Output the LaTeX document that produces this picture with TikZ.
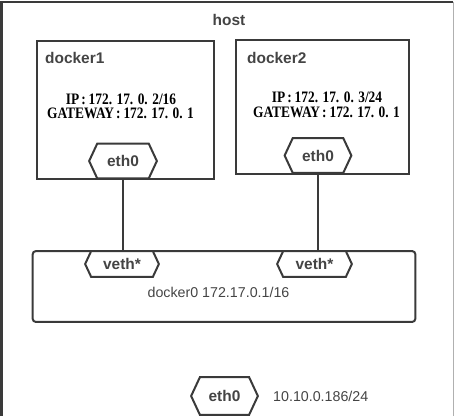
\documentclass[tikz,border=0pt]{standalone}
\usepackage{fontspec}
\setmainfont{Liberation Sans}
\newfontfamily\ipfont[FakeStretch=0.84]{Liberation Serif}
\usetikzlibrary{shapes.symbols}
\definecolor{ln}{HTML}{3A3A3A}
\definecolor{tx}{HTML}{444444}
\newcommand{\ipc}{\hspace{2pt}:\hspace{3pt}}
\begin{document}
\begin{tikzpicture}[x=1bp,y=-1bp,
  box/.style={draw=ln, line width=2bp, inner sep=0},
  hexa/.style={draw=ln, line width=2bp, fill=white, shape=signal,
    signal to=west and east, signal pointer angle=130, inner sep=0,
    font=\fontsize{15.5}{18}\selectfont\bfseries, text=tx},
  lbl/.style={font=\fontsize{15.5}{18}\selectfont\bfseries, text=tx, inner sep=0},
  ip/.style={font=\ipfont\bfseries\fontsize{16}{14}\selectfont, inner sep=0, text=black,
    anchor=base, text height=10.5bp, text depth=1bp},
  plain/.style={font=\fontsize{14.3}{17}\selectfont, text=tx, inner sep=0},
  conn/.style={draw=ln, line width=2bp}
]
\useasboundingbox (0,0) rectangle (455,416);
% host frame
\draw[ln, line width=2bp] (1.5,416) -- (1.5,1.5) -- (453,1.5);
\draw[ln!40, line width=1.2bp] (453.5,1.5) -- (453.5,416);
\node[lbl] (host) at (229,20) {host};

% containers
\node[box, minimum width=177, minimum height=138] (d1) at (125.5,110) {};
\node[lbl, anchor=west] (d1l) at (45,58) {docker1};
\node[box, minimum width=173, minimum height=134] (d2) at (322.5,107) {};
\node[lbl, anchor=west] (d2l) at (247,58) {docker2};

\node[ip] (ip1a) at (121,104) {IP\ipc172. 17. 0. 2/16};
\node[ip] (ip1b) at (120.5,118.5) {GATEWAY\ipc172. 17. 0. 1};
\node[ip] (ip2a) at (327,102.5) {IP\ipc172. 17. 0. 3/24};
\node[ip] (ip2b) at (326.5,117) {GATEWAY\ipc172. 17. 0. 1};

\node[hexa, minimum width=68, minimum height=35] (e1) at (123,161) {eth0};
\node[hexa, minimum width=67, minimum height=35] (e2) at (318,155.5) {eth0};

% bridge
\node[box, rounded corners=3bp, minimum width=384, minimum height=71] (br) at (224,286.5) {};
\node[hexa, minimum width=74, minimum height=26] (v1) at (122,264) {veth*};
\node[hexa, minimum width=75, minimum height=26] (v2) at (314.5,264) {veth*};
\node[plain] (brl) at (218.5,292) {docker0 172.17.0.1/16};

\draw[conn] (e1.south) -- (e1.south |- v1.north);
\draw[conn] (e2.south) -- (e2.south |- v2.north);

% host nic
\node[hexa, minimum width=67, minimum height=38] (e0) at (224.5,396) {eth0};
\node[plain, anchor=west] (e0l) at (273,396) {10.10.0.186/24};
\end{tikzpicture}
\end{document}
